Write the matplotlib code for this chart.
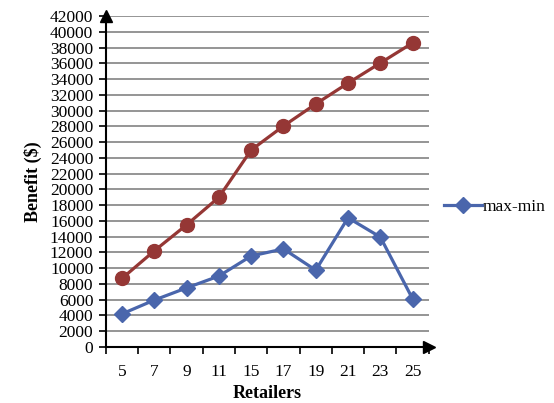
import matplotlib.pyplot as plt
import numpy as np

# Datos
retailers = ['5', '7', '9', '11', '15', '17', '19', '21', '23', '25']
max_values = [8700, 12200, 15500, 19000, 25000, 28050, 30850, 33500, 36050, 38600]
max_min = [4200, 5950, 7500, 9000, 11550, 12450, 9750, 16400, 13950, 6100]
y_ticks = np.arange(0, 42001, 2000)

plt.rcParams['font.family'] = ['Liberation Serif', 'DejaVu Serif']

fig = plt.figure(figsize=(5.54, 4.03), dpi=100)
ax = fig.add_axes([0.191, 0.139, 0.583, 0.821])

x = np.arange(len(retailers))
ax.plot(x, max_values, color='#953735', linewidth=2.3, marker='o',
        markersize=10, zorder=3)
ax.plot(x, max_min, color='#4a66ac', linewidth=2.3, marker='D',
        markersize=8, label='max-min', zorder=3)

ax.set_xlim(-0.5, len(retailers) - 0.5)
ax.set_ylim(0, 42000)
ax.set_yticks(y_ticks)
ax.set_yticklabels([str(v) for v in y_ticks], fontsize=12.5)
ax.set_xticks(x)
ax.set_xticklabels(retailers, fontsize=12.5)
ax.tick_params(axis='x', which='major', length=0, pad=12)
ax.set_xticks(np.arange(-0.5, len(retailers), 1), minor=True)
ax.tick_params(axis='x', which='minor', length=5, width=1.2, direction='out')
ax.tick_params(axis='y', length=5, width=1.2, direction='out', pad=4)

# Rejilla horizontal
ax.grid(axis='y', color='#8c8c8c', linewidth=1.3)
ax.set_axisbelow(True)

for s in ['top', 'right']:
    ax.spines[s].set_visible(False)
for s in ['left', 'bottom']:
    ax.spines[s].set_linewidth(1.5)

# Flechas en los ejes
ax.plot(1, 0, '>k', transform=ax.transAxes, clip_on=False, markersize=8)
ax.plot(0, 1, '^k', transform=ax.transAxes, clip_on=False, markersize=8)

ax.set_xlabel('Retailers', fontsize=13, fontweight='bold', labelpad=4)
ax.set_ylabel('Benefit ($)', fontsize=13, fontweight='bold', labelpad=6)

ax.legend(loc='center left', bbox_to_anchor=(1.02, 0.423), frameon=False,
          fontsize=12.5, handlelength=2.2, handletextpad=0.05, borderpad=0)

fig.savefig('out.png', dpi=100)
